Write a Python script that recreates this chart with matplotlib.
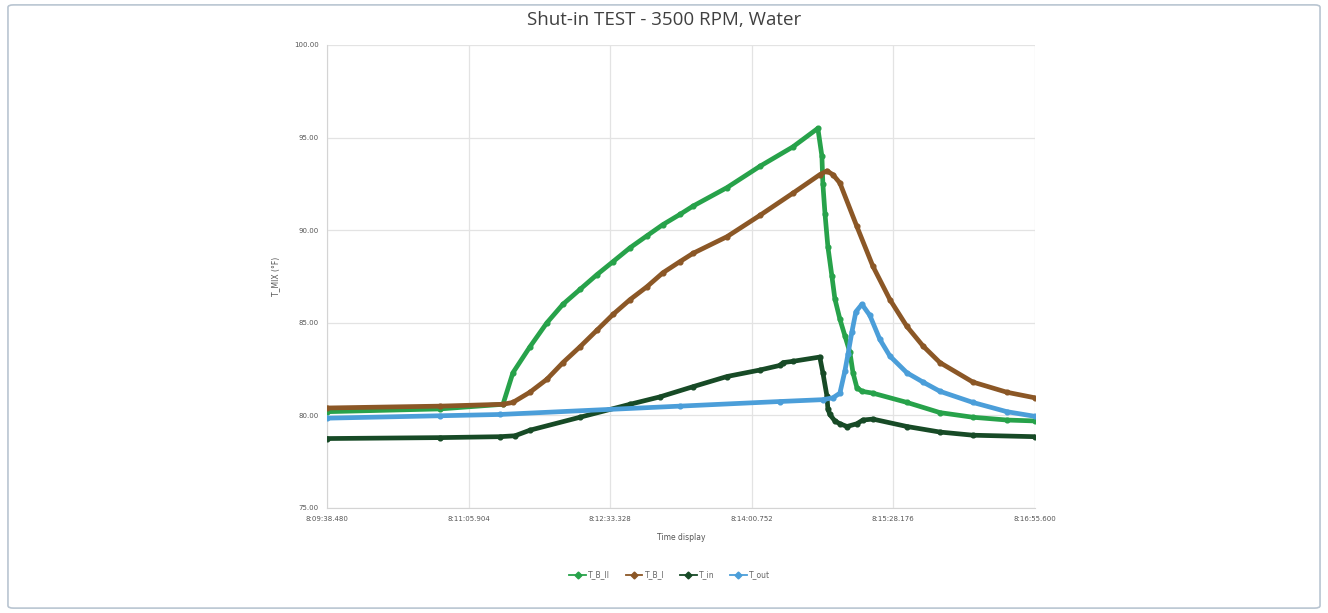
import matplotlib
matplotlib.use('Agg')
import matplotlib.pyplot as plt
from matplotlib.lines import Line2D
from matplotlib.patches import FancyBboxPatch

# time offsets in seconds from the first sample, temperatures in deg F
t_b2_x = [0, 69.8, 108.7, 114.8, 125.3, 135.8, 145.7, 156.2, 166.7, 176.6, 187.1, 197.6,
          207.4, 217.9, 226.0, 247.0, 267.3, 287.7, 303.1, 305.6, 306.2, 307.5, 309.3,
          311.8, 313.6, 316.7, 319.8, 322.9, 324.8, 327.2, 330.3, 337.1, 358.1, 378.5,
          398.8, 419.8, 437.1]
t_b2_y = [80.2, 80.35, 80.6, 82.3, 83.7, 85.0, 86.0, 86.8, 87.6, 88.3, 89.05, 89.7,
          90.3, 90.85, 91.3, 92.3, 93.45, 94.5, 95.5, 94.0, 92.5, 90.9, 89.1,
          87.5, 86.3, 85.2, 84.3, 83.4, 82.3, 81.5, 81.3, 81.2, 80.7, 80.15,
          79.9, 79.75, 79.7]

t_b1_x = [0, 69.8, 108.7, 114.8, 125.3, 135.8, 145.7, 156.2, 166.7, 176.6, 187.1, 197.6,
          207.4, 217.9, 226.0, 247.0, 267.3, 287.7, 304.3, 308.7, 312.4, 316.7, 327.2,
          337.1, 347.6, 358.1, 368.0, 378.5, 398.8, 419.8, 437.1]
t_b1_y = [80.4, 80.5, 80.6, 80.7, 81.25, 81.95, 82.85, 83.7, 84.6, 85.45, 86.25, 86.95,
          87.7, 88.3, 88.75, 89.65, 90.8, 92.0, 93.0, 93.2, 93.0, 92.55, 90.2,
          88.05, 86.25, 84.8, 83.75, 82.85, 81.8, 81.25, 80.95]

t_in_x = [0, 69.8, 106.8, 116.1, 125.3, 156.2, 187.1, 205.6, 226.0, 247.0, 267.3, 279.7,
          281.6, 287.7, 304.3, 306.2, 308.7, 309.3, 310.5, 313.6, 316.7, 321.1, 327.2,
          330.9, 337.1, 358.1, 378.5, 398.8, 437.1]
t_in_y = [78.75, 78.8, 78.85, 78.9, 79.2, 79.9, 80.6, 81.0, 81.55, 82.1, 82.45, 82.7,
          82.85, 82.92, 83.15, 82.3, 81.05, 80.35, 80.05, 79.7, 79.55, 79.4, 79.55,
          79.75, 79.8, 79.4, 79.1, 78.93, 78.85]

t_out_x = [0, 69.8, 106.8, 217.9, 279.7, 306.2, 312.4, 316.7, 319.8, 321.7, 324.1, 326.6,
           330.3, 335.2, 341.4, 347.6, 358.1, 368.0, 378.5, 398.8, 419.8, 437.1]
t_out_y = [79.85, 79.98, 80.05, 80.5, 80.75, 80.85, 80.95, 81.2, 82.4, 83.3, 84.5, 85.6,
           86.0, 85.4, 84.1, 83.2, 82.3, 81.8, 81.3, 80.7, 80.2, 79.95]

x_ticks = [0, 87.424, 174.848, 262.272, 349.696, 437.12]
x_labels = ['8:09:38.480', '8:11:05.904', '8:12:33.328', '8:14:00.752',
            '8:15:28.176', '8:16:55.600']
y_ticks = [75, 80, 85, 90, 95, 100]

fig = plt.figure(figsize=(13.28, 6.13), dpi=100)
fig.patch.set_facecolor('white')

frame = FancyBboxPatch((0.006, 0.008), 0.988, 0.984, boxstyle='round,pad=0,rounding_size=0.004',
                       transform=fig.transFigure, facecolor='white', edgecolor='#b9c5d1',
                       linewidth=1.2, zorder=-10)
fig.patches.append(frame)

ax = fig.add_axes([0.2462, 0.1713, 0.5331, 0.7553])
ax.set_facecolor('none')

series = [
    (t_b2_x, t_b2_y, '#27a24a', 'T_B_II'),
    (t_b1_x, t_b1_y, '#8b5726', 'T_B_I'),
    (t_in_x, t_in_y, '#174a26', 'T_in'),
    (t_out_x, t_out_y, '#4b9ed9', 'T_out'),
]
handles = []
for xs, ys, col, name in series:
    ax.plot(xs, ys, color=col, lw=3.4, marker='o', ms=3.4, zorder=3,
            solid_joinstyle='round')
    handles.append(Line2D([], [], color=col, lw=1.3, marker='D', ms=3.5, label=name))

ax.set_xlim(0, 437.12)
ax.set_ylim(75, 100)
ax.set_xticks(x_ticks)
ax.set_xticklabels(x_labels)
ax.set_yticks(y_ticks)
ax.set_yticklabels(['%.2f' % v for v in y_ticks])
ax.tick_params(labelsize=5, colors='#555555', length=0, pad=6)
ax.grid(True, color='#e3e3e3', lw=0.9)
for s in ['top', 'right']:
    ax.spines[s].set_visible(False)
for s in ['left', 'bottom']:
    ax.spines[s].set_color('#d4d4d4')

ax.set_xlabel('Time display', fontsize=5.5, color='#555555', labelpad=8)
ax.set_ylabel('T_MIX (°F)', fontsize=5.5, color='#555555', labelpad=10)

fig.text(0.5, 0.968, 'Shut-in TEST - 3500 RPM, Water', ha='center', va='center',
         fontsize=13.5, color='#404040', family='Open Sans')

ax.legend(handles=handles, loc='upper center', bbox_to_anchor=(0.484, -0.12), ncol=4,
          frameon=False, fontsize=5.5, handlelength=2.2, columnspacing=2.0,
          handletextpad=0.3, labelcolor='#666666')

fig.savefig('out.png', dpi=100, facecolor='white')
